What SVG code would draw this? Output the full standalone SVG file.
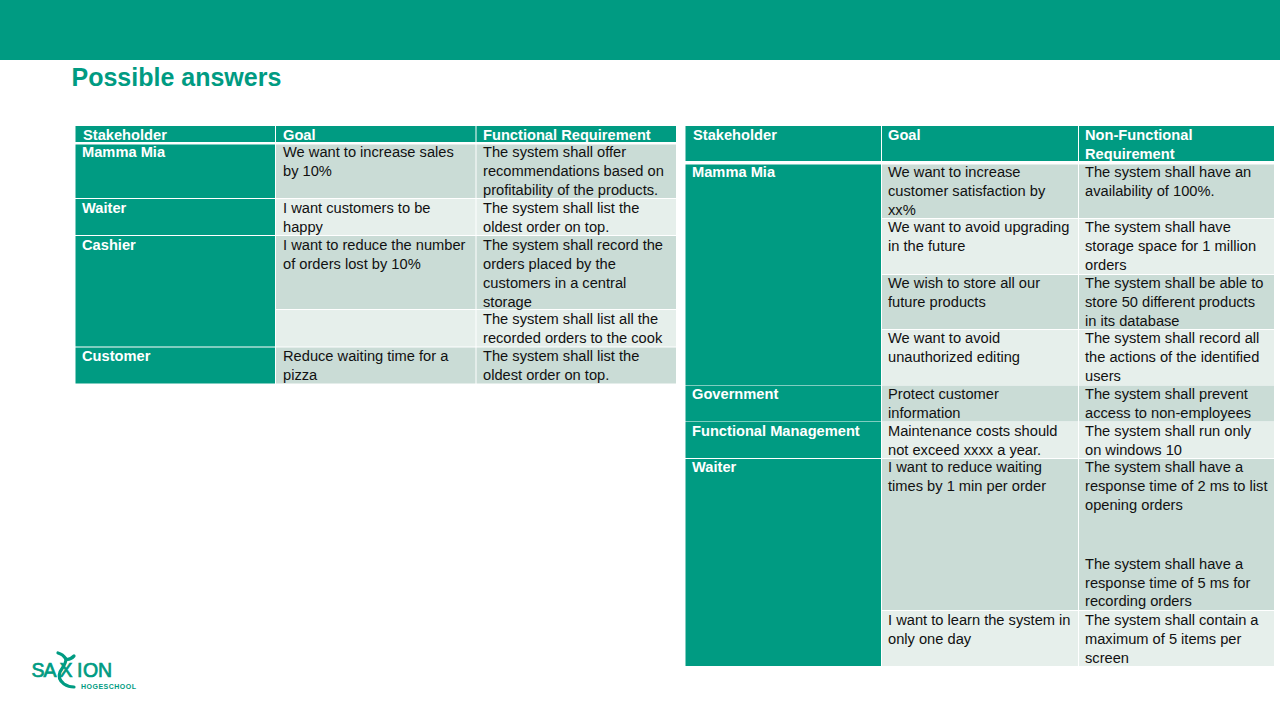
<svg xmlns="http://www.w3.org/2000/svg" width="1280" height="720" viewBox="0 0 1280 720">
<style>
text{font-family:"Liberation Sans",Arial,sans-serif;font-size:14.67px;fill:#111}
.h{fill:#fff;font-weight:bold}
.g{fill:#009B82}
.d{fill:#CADCD6}
.l{fill:#E6EFEB}
.t{fill:#009B82;font-weight:bold;font-size:25px}
.lg{fill:#009B82;font-weight:bold}
.sw{fill:none;stroke:#009B82;stroke-width:3.2;stroke-linecap:round}
</style>
<rect width="1280" height="720" fill="#fff"/>
<rect id="banner" width="1280" height="60" class="g"/>
<text id="title" class="t" x="71.500" y="86">Possible answers</text>
<g id="table-left">
<rect class="g" x="75.500" y="126" width="199.500" height="16"/><rect class="g" x="276" y="126" width="199.500" height="16"/><rect class="g" x="476.500" y="126" width="199.500" height="16"/>
<rect class="g" x="75.500" y="144.500" width="199.500" height="53.500"/><rect class="d" x="276" y="144.500" width="199.500" height="53.500"/><rect class="d" x="476.500" y="144.500" width="199.500" height="53.500"/>
<rect class="g" x="75.500" y="199" width="199.500" height="36"/><rect class="l" x="276" y="199" width="199.500" height="36"/><rect class="l" x="476.500" y="199" width="199.500" height="36"/>
<rect class="g" x="75.500" y="236" width="199.500" height="110.500"/><rect class="d" x="276" y="236" width="199.500" height="73"/><rect class="d" x="476.500" y="236" width="199.500" height="73"/>
<rect class="l" x="276" y="310" width="199.500" height="36.500"/><rect class="l" x="476.500" y="310" width="199.500" height="36.500"/>
<rect class="g" x="75.500" y="347.500" width="199.500" height="36"/><rect class="d" x="276" y="347.500" width="199.500" height="36"/><rect class="d" x="476.500" y="347.500" width="199.500" height="36"/>
<text class="h" x="83" y="140">Stakeholder</text><text class="h" x="283" y="140">Goal</text><text class="h" x="483" y="140">Functional Requirement</text>
<text class="h" x="82" y="157">Mamma Mia</text>
<text x="283" y="157">We want to increase sales</text><text x="283" y="176">by 10%</text>
<text x="483" y="157">The system shall offer</text><text x="483" y="176">recommendations based on</text><text x="483" y="195">profitability of the products.</text>
<text class="h" x="82" y="213">Waiter</text>
<text x="283" y="213">I want customers to be</text><text x="283" y="232">happy</text>
<text x="483" y="213">The system shall list the</text><text x="483" y="232">oldest order on top.</text>
<text class="h" x="82" y="250">Cashier</text>
<text x="283" y="250">I want to reduce the number</text><text x="283" y="269">of orders lost by 10%</text>
<text x="483" y="250">The system shall record the</text><text x="483" y="269">orders placed by the</text><text x="483" y="288">customers in a central</text><text x="483" y="307">storage</text>
<text x="483" y="324">The system shall list all the</text><text x="483" y="343">recorded orders to the cook</text>
<text class="h" x="82" y="361">Customer</text>
<text x="283" y="361">Reduce waiting time for a</text><text x="283" y="380">pizza</text>
<text x="483" y="361">The system shall list the</text><text x="483" y="380">oldest order on top.</text>
</g>
<g id="table-right">
<rect class="g" x="685.500" y="126" width="195.500" height="35"/><rect class="g" x="882" y="126" width="196" height="35"/><rect class="g" x="1079" y="126" width="195" height="35"/>
<rect class="g" x="685.500" y="164.500" width="195.500" height="220.500"/>
<rect class="d" x="882" y="164.500" width="196" height="53.500"/><rect class="d" x="1079" y="164.500" width="195" height="53.500"/>
<rect class="l" x="882" y="219" width="196" height="55"/><rect class="l" x="1079" y="219" width="195" height="55"/>
<rect class="d" x="882" y="275" width="196" height="54"/><rect class="d" x="1079" y="275" width="195" height="54"/>
<rect class="l" x="882" y="330" width="196" height="55"/><rect class="l" x="1079" y="330" width="195" height="55"/>
<rect class="g" x="685.500" y="385.500" width="195.500" height="36"/><rect class="d" x="882" y="385.500" width="196" height="36"/><rect class="d" x="1079" y="385.500" width="195" height="36"/>
<rect class="g" x="685.500" y="422" width="195.500" height="36"/><rect class="l" x="882" y="422" width="196" height="36"/><rect class="l" x="1079" y="422" width="195" height="36"/>
<rect class="g" x="685.500" y="459" width="195.500" height="207"/>
<rect class="d" x="882" y="459" width="196" height="151"/><rect class="d" x="1079" y="459" width="195" height="151"/>
<rect class="l" x="882" y="611" width="196" height="55"/><rect class="l" x="1079" y="611" width="195" height="55"/>
<text class="h" x="693" y="140">Stakeholder</text><text class="h" x="888" y="140">Goal</text><text class="h" x="1085" y="140">Non-Functional</text><text class="h" x="1085" y="159">Requirement</text>
<text class="h" x="692" y="177">Mamma Mia</text>
<text x="888" y="177">We want to increase</text><text x="888" y="196">customer satisfaction by</text><text x="888" y="215">xx%</text>
<text x="1085" y="177">The system shall have an</text><text x="1085" y="196">availability of 100%.</text>
<text x="888" y="232">We want to avoid upgrading</text><text x="888" y="251">in the future</text>
<text x="1085" y="232">The system shall have</text><text x="1085" y="251">storage space for 1 million</text><text x="1085" y="270">orders</text>
<text x="888" y="288">We wish to store all our</text><text x="888" y="307">future products</text>
<text x="1085" y="288">The system shall be able to</text><text x="1085" y="307">store 50 different products</text><text x="1085" y="326">in its database</text>
<text x="888" y="343">We want to avoid</text><text x="888" y="362">unauthorized editing</text>
<text x="1085" y="343">The system shall record all</text><text x="1085" y="362">the actions of the identified</text><text x="1085" y="381">users</text>
<text class="h" x="692" y="399">Government</text>
<text x="888" y="399">Protect customer</text><text x="888" y="418">information</text>
<text x="1085" y="399">The system shall prevent</text><text x="1085" y="418">access to non-employees</text>
<text class="h" x="692" y="436">Functional Management</text>
<text x="888" y="436">Maintenance costs should</text><text x="888" y="455">not exceed xxxx a year.</text>
<text x="1085" y="436">The system shall run only</text><text x="1085" y="455">on windows 10</text>
<text class="h" x="692" y="472">Waiter</text>
<text x="888" y="472">I want to reduce waiting</text><text x="888" y="491">times by 1 min per order</text>
<text x="1085" y="472">The system shall have a</text><text x="1085" y="491">response time of 2 ms to list</text><text x="1085" y="510">opening orders</text>
<text x="1085" y="569">The system shall have a</text><text x="1085" y="588">response time of 5 ms for</text><text x="1085" y="606">recording orders</text>
<text x="888" y="625">I want to learn the system in</text><text x="888" y="644">only one day</text>
<text x="1085" y="625">The system shall contain a</text><text x="1085" y="644">maximum of 5 items per</text><text x="1085" y="663">screen</text>
</g>
<g id="logo">
<text class="lg" x="31.500 43.500 59.500 77 83 98" y="677" style="font-size:19.500px;font-weight:normal;stroke:#009B82;stroke-width:.7">SAXION</text>
<path class="sw" d="M58 653C62 654 64 656 66 659C69 660 72 658 74 656"/>
<path class="sw" d="M66 659C66 664 62 668 60 672C58 677 60 681 64 684C67 686 71 687 74 687"/>
<text class="lg" x="81" y="688.500" style="font-size:7px" textLength="55" lengthAdjust="spacing">HOGESCHOOL</text>
</g>
</svg>
